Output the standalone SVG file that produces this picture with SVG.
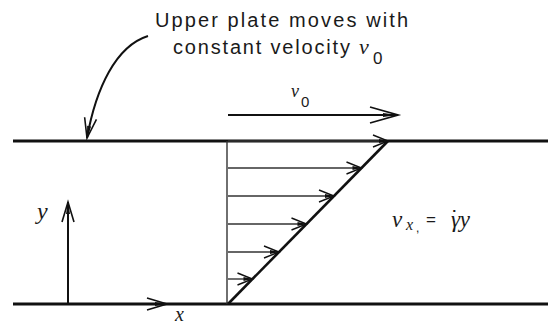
<svg xmlns="http://www.w3.org/2000/svg" width="548" height="327" viewBox="0 0 548 327">
<style>
.plate{stroke:#111;stroke-width:3;fill:none}
.thin{stroke:#333;stroke-width:1.4;fill:none}
.axis{stroke:#111;stroke-width:2;fill:none}
.diag{stroke:#111;stroke-width:2.6;fill:none}
.txt{font-family:"Liberation Sans",Arial,sans-serif;fill:#1a1a1a}
.math{font-family:"Liberation Serif","Times New Roman",serif;font-style:italic;fill:#1a1a1a}
</style>
<defs>
<marker id="prof" markerUnits="userSpaceOnUse" markerWidth="17" markerHeight="14" viewBox="0 0 17 14" refX="16" refY="7" orient="auto" overflow="visible">
<path d="M1,1 L16,7 L1,13" fill="none" stroke="#111" stroke-width="1.4"/>
<path d="M7,5 L16,7 L7,9 Z" fill="#111"/>
</marker>
<marker id="long" markerUnits="userSpaceOnUse" markerWidth="30" markerHeight="18" viewBox="0 0 30 18" refX="29" refY="9" orient="auto" overflow="visible">
<path d="M1,1 L29,9 L1,17" fill="none" stroke="#111" stroke-width="1.8"/>
<path d="M14,7 L29,9 L14,11 Z" fill="#111"/>
</marker>
<marker id="axh" markerUnits="userSpaceOnUse" markerWidth="22" markerHeight="14" viewBox="0 0 22 14" refX="21" refY="7" orient="auto" overflow="visible">
<path d="M1,1 L21,7 L1,13" fill="none" stroke="#111" stroke-width="1.6"/>
<path d="M9,5 L21,7 L9,9 Z" fill="#111"/>
</marker>
</defs>

<g id="plates">
<line class="plate" x1="13" y1="141" x2="548" y2="141"/>
<line class="plate" x1="13" y1="304" x2="548" y2="304"/>
</g>

<g id="caption">
<text class="txt" x="155" y="27" font-size="20" textLength="253" lengthAdjust="spacing">Upper plate moves with</text>
<text class="txt" x="173" y="54" font-size="20" textLength="177" lengthAdjust="spacing">constant velocity</text>
<text class="math" x="359" y="54" font-size="22">v</text>
<text class="txt" x="373" y="64" font-size="17">0</text>
</g>

<g id="velocity-label">
<text class="math" x="291" y="97" font-size="18">v</text>
<text class="txt" x="301" y="107" font-size="15">0</text>
</g>

<g id="profile">
<line class="thin" x1="227" y1="141" x2="227" y2="304"/>
<line class="diag" x1="228" y1="304" x2="388" y2="141"/>
</g>

<g id="axes">
<line class="axis" x1="68" y1="304" x2="68" y2="202" marker-end="url(#axh)"/>
<text class="math" x="37" y="219" font-size="24">y</text>
<line class="axis" x1="100" y1="304" x2="167" y2="304" stroke-width="0" marker-end="url(#axh)"/>
<text class="math" x="175" y="321" font-size="20">x</text>
</g>

<g id="formula">
<text class="math" x="392" y="227" font-size="23">v</text>
<text class="math" x="406" y="230" font-size="16">x</text>
<text class="txt" x="416" y="232" font-size="12">,</text>
<text class="txt" x="426" y="225" font-size="17">=</text>
<text class="math" x="451" y="227" font-size="23">γ<tspan dx="-8.5" font-style="normal" font-family="Liberation Sans, sans-serif">˙</tspan><tspan dx="0.5">y</tspan></text>
</g>

<g id="connectors">
<path d="M148,36 C116,46 96,88 87,138" class="axis" stroke-width="2" marker-end="url(#axh)"/>
<line class="axis" x1="228" y1="115" x2="398" y2="115" stroke-width="3" marker-end="url(#long)"/>
<line class="thin" x1="228" y1="141" x2="388" y2="141" stroke-width="0" marker-end="url(#prof)"/>
<line class="thin" x1="228" y1="168" x2="361.5" y2="168" marker-end="url(#prof)"/>
<line class="thin" x1="228" y1="196" x2="334" y2="196" marker-end="url(#prof)"/>
<line class="thin" x1="228" y1="224" x2="306.5" y2="224" marker-end="url(#prof)"/>
<line class="thin" x1="228" y1="252" x2="279" y2="252" marker-end="url(#prof)"/>
<line class="thin" x1="228" y1="279" x2="252.5" y2="279" marker-end="url(#prof)"/>
</g>
</svg>
